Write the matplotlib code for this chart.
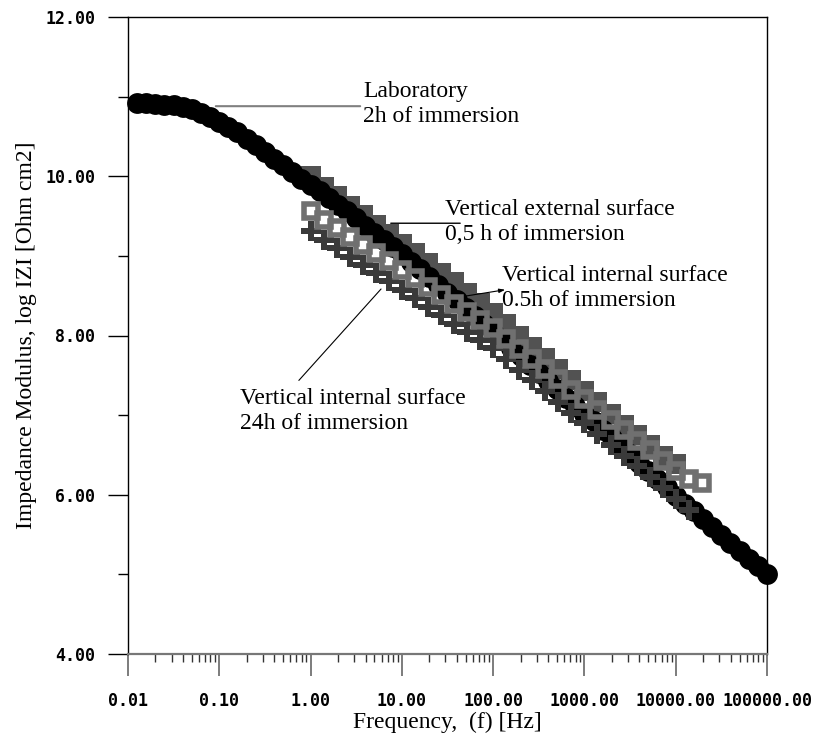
import matplotlib
matplotlib.use("Agg")
import matplotlib.pyplot as plt
from matplotlib.ticker import LogLocator, FixedLocator, FormatStrFormatter, NullFormatter

# frequencies [Hz]
lab_freq = [0.0126, 0.0158, 0.0200, 0.0251, 0.0316, 0.0398, 0.0501, 0.0631, 0.0794,
            0.100, 0.126, 0.158, 0.200, 0.251, 0.316, 0.398, 0.501, 0.631, 0.794,
            1.00, 1.26, 1.58, 2.00, 2.51, 3.16, 3.98, 5.01, 6.31, 7.94,
            10.0, 12.6, 15.8, 20.0, 25.1, 31.6, 39.8, 50.1, 63.1, 79.4,
            100, 126, 158, 200, 251, 316, 398, 501, 631, 794,
            1000, 1259, 1585, 1995, 2512, 3162, 3981, 5012, 6310, 7943,
            10000, 12589, 15849, 19953, 25119, 31623, 39811, 50119, 63096, 79433,
            100000]
lab_logz = [10.92, 10.92, 10.91, 10.90, 10.89, 10.87, 10.84, 10.80, 10.75,
            10.68, 10.62, 10.55, 10.47, 10.39, 10.31, 10.22, 10.14, 10.05, 9.97,
            9.89, 9.81, 9.73, 9.64, 9.56, 9.47, 9.38, 9.29, 9.20, 9.11,
            9.02, 8.92, 8.83, 8.73, 8.64, 8.54, 8.44, 8.34, 8.24, 8.14,
            8.04, 7.94, 7.84, 7.74, 7.63, 7.53, 7.43, 7.33, 7.22, 7.12,
            7.02, 6.92, 6.81, 6.71, 6.61, 6.51, 6.40, 6.30, 6.20, 6.10,
            5.99, 5.89, 5.79, 5.69, 5.59, 5.49, 5.39, 5.29, 5.19, 5.10,
            5.00]

eis_freq = [1.00, 1.39, 1.93, 2.68, 3.73, 5.18, 7.20,
            10.0, 13.9, 19.3, 26.8, 37.3, 51.8, 72.0,
            100, 139, 193, 268, 373, 518, 720,
            1000, 1389, 1931, 2683, 3728, 5179, 7197,
            10000, 13895, 19307]

ext_05h = [10.00, 9.87, 9.75, 9.63, 9.51, 9.39, 9.27,
           9.15, 9.03, 8.91, 8.79, 8.67, 8.54, 8.41,
           8.28, 8.14, 8.00, 7.86, 7.72, 7.58, 7.44,
           7.30, 7.16, 7.02, 6.88, 6.75, 6.62, 6.49,
           6.38]
int_05h = [9.56, 9.45, 9.35, 9.24, 9.14, 9.03, 8.93,
           8.82, 8.72, 8.61, 8.51, 8.40, 8.30, 8.19,
           8.09, 7.96, 7.83, 7.71, 7.58, 7.45, 7.32,
           7.20, 7.07, 6.94, 6.81, 6.68, 6.56, 6.43,
           6.30, 6.20, 6.15]
int_24h = [9.31, 9.20, 9.10, 8.99, 8.89, 8.78, 8.68,
           8.57, 8.47, 8.36, 8.26, 8.15, 8.05, 7.94,
           7.84, 7.71, 7.57, 7.44, 7.30, 7.17, 7.03,
           6.90, 6.76, 6.63, 6.49, 6.36, 6.22, 6.09,
           5.95, 5.81]

W, H = 817, 738
fig = plt.figure(figsize=(W / 100, H / 100), dpi=100)
ax = fig.add_axes([128 / W, 1 - 654 / H, (767 - 128) / W, (654 - 17) / H])

ax.plot(eis_freq[:len(ext_05h)], ext_05h, ls='none', marker='s', ms=14.5,
        mfc='#525252', mec='#525252', mew=0, zorder=2)
ax.plot(lab_freq, lab_logz, ls='none', marker='o', ms=15,
        mfc='black', mec='black', mew=0, zorder=3, clip_on=False)
ax.plot(eis_freq[:len(int_24h)], int_24h, ls='none', marker='P', ms=15,
        mfc='#3a3a3a', mec='#3a3a3a', mew=0, zorder=4)
ax.plot(eis_freq[:len(int_05h)], int_05h, ls='none', marker='s', ms=10.5,
        mfc='none', mec='#707070', mew=4, zorder=5)

ax.set_xscale('log')
ax.set_xlim(0.01, 100000)
ax.set_ylim(4, 12)

ax.xaxis.set_major_locator(LogLocator(base=10, numticks=20))
ax.xaxis.set_minor_locator(LogLocator(base=10, subs=range(2, 10), numticks=20))
ax.xaxis.set_major_formatter(FormatStrFormatter('%.2f'))
ax.xaxis.set_minor_formatter(NullFormatter())
ax.yaxis.set_major_locator(FixedLocator([4, 6, 8, 10, 12]))
ax.yaxis.set_minor_locator(FixedLocator([5, 7, 9, 11]))
ax.yaxis.set_major_formatter(FormatStrFormatter('%.2f'))

ax.tick_params(axis='x', which='major', direction='out', length=16, width=1.2,
               color='#666666', pad=11)
ax.tick_params(axis='x', which='minor', direction='out', length=6, width=1,
               color='#333333')
ax.tick_params(axis='y', which='major', direction='out', length=14.5, width=1,
               color='black', pad=9)
ax.tick_params(axis='y', which='minor', direction='out', length=7, width=1,
               color='black')
for lab in ax.get_xticklabels() + ax.get_yticklabels():
    lab.set_fontfamily('DejaVu Sans Mono')
    lab.set_fontweight('bold')
    lab.set_fontsize(12)

for side in ['top', 'right', 'left']:
    ax.spines[side].set_linewidth(1)
    ax.spines[side].set_color('black')
ax.spines['bottom'].set_linewidth(1.6)
ax.spines['bottom'].set_color('#777777')

serif = 'Liberation Serif'
ax.set_xlabel('Frequency,  (f) [Hz]', family=serif, fontsize=17)
ax.set_ylabel('Impedance Modulus, log IZI [Ohm cm2]', family=serif, fontsize=17)
ax.xaxis.set_label_coords(0.5, -0.09)
ax.yaxis.set_label_coords(-0.142, 0.5)

txt = dict(family=serif, fontsize=17, va='top', ha='left', linespacing=1.25)
ax.text(3.75, 11.19, 'Laboratory\n2h of immersion', **txt)
ax.text(29.6, 9.715, 'Vertical external surface\n0,5 h of immersion', **txt)
ax.text(125, 8.885, 'Vertical internal surface\n0.5h of immersion', **txt)
ax.text(0.169, 7.345, 'Vertical internal surface\n24h of immersion', **txt)

ax.annotate('', xy=(3.75, 10.88), xytext=(0.0853, 10.88),
            arrowprops=dict(arrowstyle='-', color='#808080', lw=1.5))
ax.annotate('', xy=(46.7, 9.41), xytext=(7.05, 9.41),
            arrowprops=dict(arrowstyle='-', color='black', lw=1))
ax.annotate('', xy=(145, 8.58), xytext=(36.3, 8.47),
            arrowprops=dict(arrowstyle='-|>,head_length=0.35,head_width=0.12',
                            color='black', lw=0.8))
ax.annotate('', xy=(0.71, 7.41), xytext=(6.2, 8.61),
            arrowprops=dict(arrowstyle='-', color='black', lw=0.8))

fig.savefig('out.png', dpi=100)
